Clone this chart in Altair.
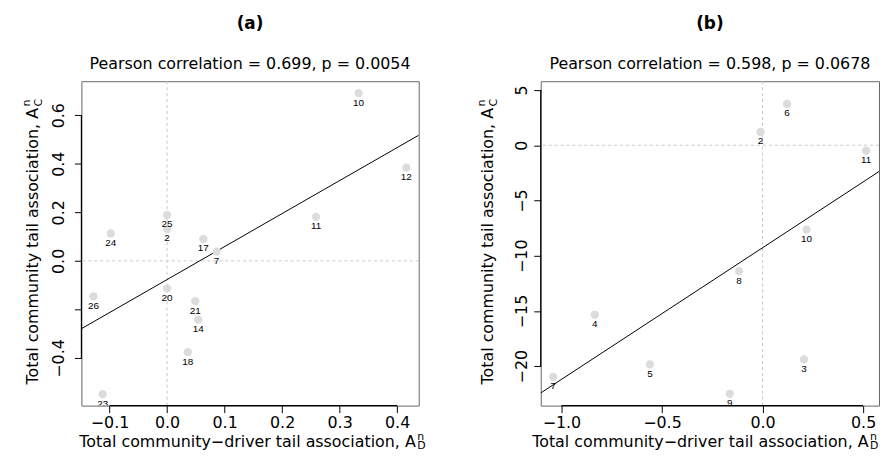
import altair as alt
import pandas as pd

FONT = "DejaVu Sans"
H = 327

# ---------------- Panel (a) data ----------------
a_labels = ["10", "12", "11", "25", "2", "24", "17", "7", "20", "26", "21", "14", "18", "23"]
a_x = [0.333, 0.416, 0.259, 0.000, 0.000, -0.098, 0.063, 0.086, 0.000, -0.128, 0.049, 0.054, 0.036, -0.112]
a_y = [0.691, 0.384, 0.181, 0.189, 0.131, 0.113, 0.090, 0.038, -0.113, -0.146, -0.166, -0.242, -0.376, -0.549]
a_xticks = [-0.1, 0.0, 0.1, 0.2, 0.3, 0.4]
a_yticks = [-0.4, -0.2, 0.0, 0.2, 0.4, 0.6]
a_xdom = [-0.149, 0.4375]
a_ydom = [-0.596, 0.740]
a_title = "(a)"
a_stat = "Pearson correlation = 0.699, p = 0.0054"

# ---------------- Panel (b) data ----------------
b_labels = ["6", "2", "11", "10", "8", "4", "5", "3", "7", "9"]
b_x = [0.122, -0.010, 0.515, 0.219, -0.117, -0.834, -0.560, 0.206, -1.041, -0.163]
b_y = [3.74, 1.20, -0.48, -7.63, -11.40, -15.35, -19.84, -19.39, -20.97, -22.50]
b_xticks = [-1.0, -0.5, 0.0, 0.5]
b_yticks = [-20, -15, -10, -5, 0, 5]
b_xdom = [-1.103, 0.579]
b_ydom = [-23.57, 5.8]
b_title = "(b)"
b_stat = "Pearson correlation = 0.598, p = 0.0678"

x_title_main = "Total community\u2212driver tail association, A"
y_title_main = "Total community tail association, A"


def one_row():
    return pd.DataFrame({"z": [0]})


def txt(text, x, y, size=16, weight="normal", align="center", baseline="alphabetic", angle=0):
    return alt.Chart(one_row()).mark_text(
        text=text, font=FONT, fontSize=size, fontWeight=weight, color="black",
        align=align, baseline=baseline, angle=angle
    ).encode(x=alt.value(x), y=alt.value(y))


def anchor(x, y):
    return alt.Chart(one_row()).mark_rule(strokeOpacity=0, color="white").encode(
        x=alt.value(x), x2=alt.value(x), y=alt.value(y), y2=alt.value(y)
    )


def panel(labels, xs, ys, xdom, ydom, xticks, yticks, xfmt, yfmt, title, stat, sub,
          W, ylab_pad, ytx, xshift, left_a, right_a, hide=None):
    df = pd.DataFrame({"x": xs, "y": ys, "label": labels})
    xsc = alt.Scale(domain=xdom, nice=False, zero=False)
    ysc = alt.Scale(domain=ydom, nice=False, zero=False)
    if hide is None:
        yexpr = "datum.label"
    else:
        yexpr = f"abs(datum.value - ({hide})) < 1e-9 ? '' : datum.label"
    xax = alt.Axis(values=xticks, format=xfmt, title=None, grid=False, domain=False,
                   tickSize=7, tickColor="black", tickWidth=1,
                   labelFont=FONT, labelFontSize=16, labelColor="black",
                   labelBaseline="alphabetic", labelPadding=15.5,
                   labelFlush=False, labelOverlap=False)
    yax = alt.Axis(values=yticks, format=yfmt, title=None, grid=False, domain=False,
                   tickSize=7, tickColor="black", tickWidth=1,
                   labelFont=FONT, labelFontSize=16, labelColor="black",
                   labelAngle=270, labelAlign="center", labelBaseline="alphabetic",
                   labelPadding=ylab_pad, labelFlush=False, labelOverlap=False,
                   labelExpr=yexpr)
    X = lambda f: alt.X(f, scale=xsc, axis=xax)
    Y = lambda f: alt.Y(f, scale=ysc, axis=yax)

    base = alt.Chart(df)
    pts = base.mark_circle(size=70, color="#dcdcdc", opacity=1).encode(x=X("x:Q"), y=Y("y:Q"))
    lab = base.mark_text(font="Liberation Sans", fontSize=10, color="black", dy=9.5,
                         baseline="middle", clip=True).encode(x=X("x:Q"), y=Y("y:Q"), text="label:N")
    fit = base.transform_regression("x", "y", extent=xdom).mark_line(
        color="black", strokeWidth=1, clip=True).encode(x=X("x:Q"), y=Y("y:Q"))

    zero = pd.DataFrame({"z": [0]})
    vz = alt.Chart(zero).mark_rule(color="#c8c8c8", strokeDash=[3, 3], strokeWidth=1).encode(x=X("z:Q"))
    hz = alt.Chart(zero).mark_rule(color="#c8c8c8", strokeDash=[3, 3], strokeWidth=1).encode(y=Y("z:Q"))

    ends = pd.DataFrame({"x0": [xticks[0]], "x1": [xticks[-1]], "y0": [yticks[0]], "y1": [yticks[-1]]})
    yline = alt.Chart(ends).mark_rule(color="black", strokeWidth=1.2).encode(
        y=Y("y0:Q"), y2="y1:Q", x=alt.value(0))
    xline = alt.Chart(ends).mark_rule(color="black", strokeWidth=1.2).encode(
        x=X("x0:Q"), x2="x1:Q", y=alt.value(H))

    cx = W / 2
    xm = cx + 167 - xshift
    texts = [
        txt(title, cx, -52.5, size=17, weight="bold"),
        txt(stat, cx, -12.5),
        txt(x_title_main, xm, H + 41.5, align="right"),
        txt("n", xm + 1.5, H + 35, size=11, align="left"),
        txt(sub[0], xm + 1.5, H + 44, size=11, align="left"),
        txt(y_title_main, ytx, H / 2 - 136.5, align="right", angle=270),
        txt("n", ytx - 8, H / 2 - 138, size=11, align="left", angle=270),
        txt(sub[1], ytx + 4, H / 2 - 138, size=11, align="left", angle=270),
    ]
    layers = [vz, hz, fit, pts, lab, yline, xline] + texts
    if left_a is not None:
        layers.append(anchor(left_a, -71))
    if right_a is not None:
        layers.append(anchor(right_a, -71))
    return alt.layer(*layers).properties(width=W, height=H)


pa = panel(a_labels, a_x, a_y, a_xdom, a_ydom, a_xticks, a_yticks, ".1f", ".1f",
           a_title, a_stat, ("D", "C"), W=340, ylab_pad=11, ytx=-44, xshift=0,
           left_a=-73, right_a=360, hide=-0.2)
pb = panel(b_labels, b_x, b_y, b_xdom, b_ydom, b_xticks, b_yticks, ".1f", "d",
           b_title, b_stat, ("D", "C"), W=341, ylab_pad=7, ytx=-48, xshift=7,
           left_a=-80.7, right_a=None)

chart = alt.HConcatChart(
    hconcat=[pa, pb], spacing=20,
    padding={"left": 0, "top": 0, "right": 0, "bottom": 0},
).configure_view(stroke="#666666", strokeWidth=1)

chart.save("out.html", embed_options={"renderer": "svg", "actions": False})
